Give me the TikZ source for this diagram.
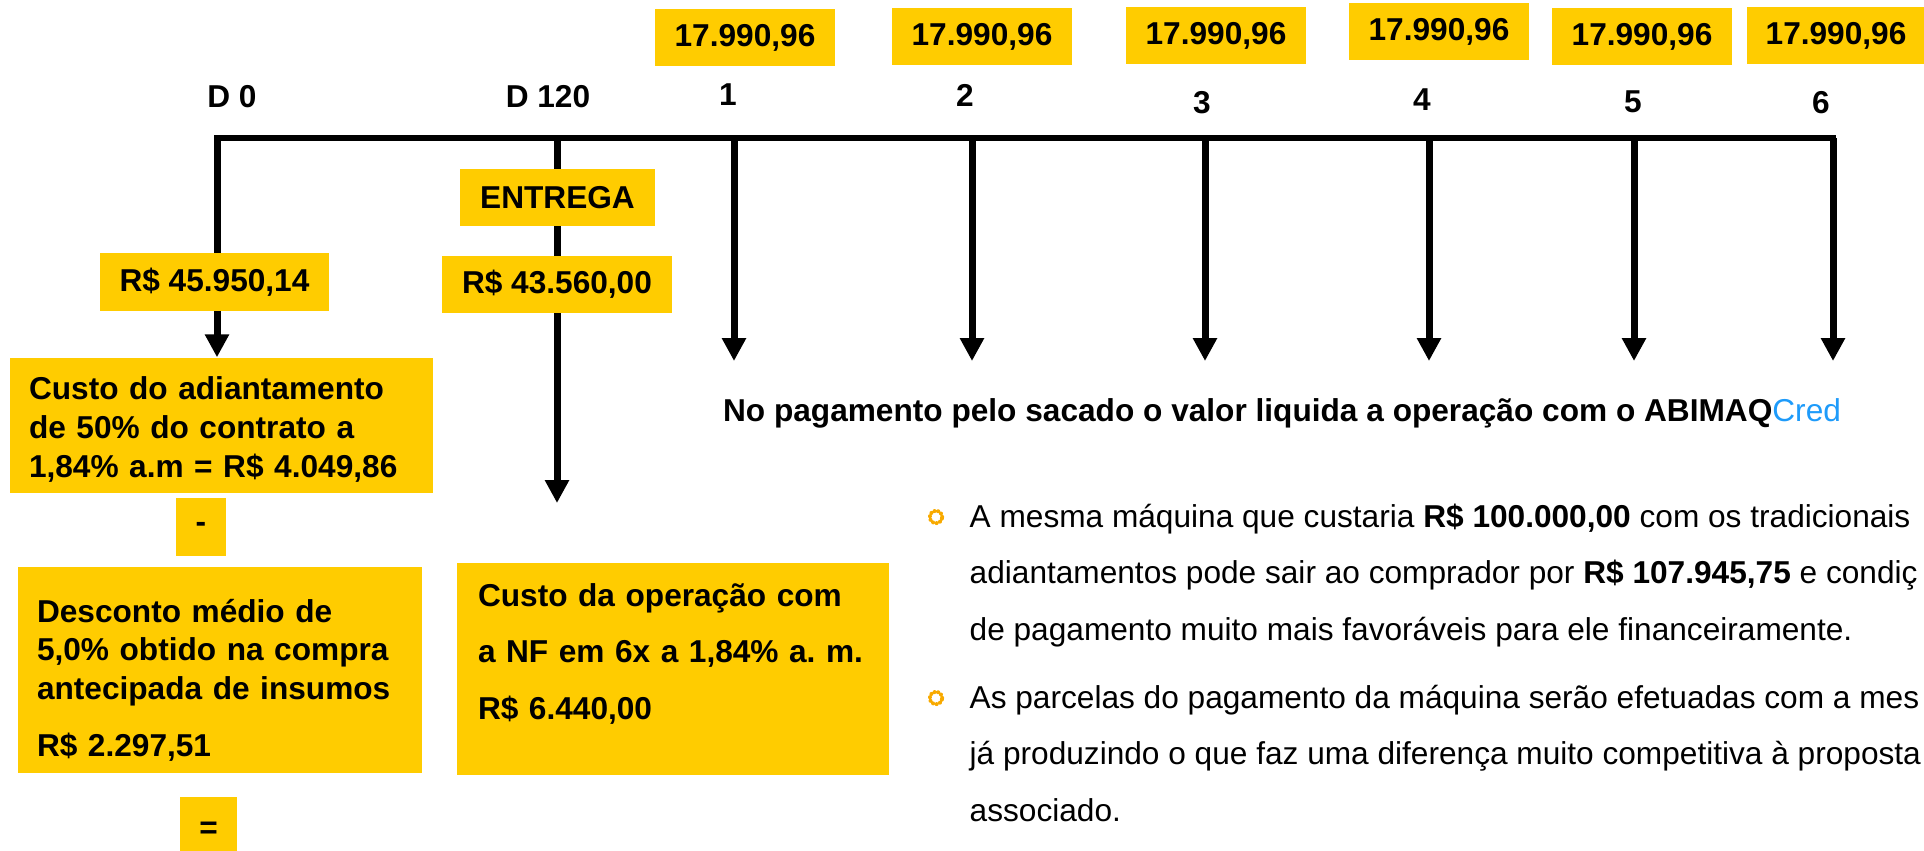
\documentclass[tikz,border=0pt]{standalone}
\usepackage{fontspec}
\setmainfont{Liberation Sans}
\usepackage{xcolor}
\usetikzlibrary{arrows.meta,backgrounds}
\definecolor{boxyellow}{RGB}{255,204,0}
\definecolor{credblue}{RGB}{30,155,250}
\definecolor{sunorange}{RGB}{248,170,0}

\begin{document}
\begin{tikzpicture}[x=0.1mm, y=-0.1mm]
	\tikzstyle{yb}=[fill=boxyellow, inner sep=0pt, font=\fontsize{9}{11}\selectfont\bfseries]
	\tikzstyle{lbl}=[inner sep=0pt, anchor=base, font=\fontsize{9}{11}\selectfont\bfseries]
	\tikzstyle{txt}=[inner sep=0pt, anchor=north west, align=left, font=\fontsize{9}{16.1}\selectfont]
	\tikzstyle{tl}=[line width=0.65mm, line cap=rect]
	\tikzstyle{arr}=[line width=0.7mm, -{Triangle[length=2.3mm, width=2.3mm]}]
	\tikzstyle{sun}=[draw=sunorange, line width=0.4mm, line cap=round, dash pattern=on 0.01mm off 0.36mm]
	\useasboundingbox (0,0) rectangle (1924,850);

		\node[lbl] (d0) at (232,107) {D 0};
		\node[lbl] (d120) at (548,107) {D 120};
		
		\node[lbl] (n1) at (728,105) {1};
		\node[lbl] (n2) at (965,106) {2};
		\node[lbl] (n3) at (1202,113) {3};
		\node[lbl] (n4) at (1422,110) {4};
		\node[lbl] (n5) at (1633,112) {5};
		\node[lbl] (n6) at (1821,113) {6};
		
		\node[yb, minimum width=18mm, minimum height=5.7mm] (v1) at (745,37.5) {17.990,96};
		\node[yb, minimum width=18mm, minimum height=5.7mm] (v2) at (982,36.5) {17.990,96};
		\node[yb, minimum width=18mm, minimum height=5.7mm] (v3) at (1216,35.5) {17.990,96};
		\node[yb, minimum width=18mm, minimum height=5.7mm] (v4) at (1439,31.5) {17.990,96};
		\node[yb, minimum width=18mm, minimum height=5.7mm] (v5) at (1642,36.5) {17.990,96};
		\node[yb, minimum width=17.8mm, minimum height=5.7mm] (v6) at (1836,35.5) {17.990,96};
		
		\node[yb, minimum width=19.5mm, minimum height=5.7mm] (entrega) at (557.5,197.5) {ENTREGA};
		\node[yb, minimum width=22.9mm, minimum height=5.8mm] (v0) at (214.5,282) {R\$ 45.950,14};
		\node[yb, minimum width=23mm, minimum height=5.7mm] (v120) at (557,284.5) {R\$ 43.560,00};
		
		\node[yb, minimum width=42.3mm, minimum height=13.5mm, text width=38.5mm, align=left] (adiant) at (221.5,425.5)
			{\rule{0pt}{3.1mm}Custo do adiantamento\\de 50\% do contrato a\\1,84\% a.m = R\$ 4.049,86};
		\node[yb, minimum width=5mm, minimum height=5.8mm] (menos) at (201,527) {-};
		\node[yb, minimum width=40.4mm, minimum height=20.6mm, text width=36.6mm, align=left] (desc) at (220,670)
			{\rule{0pt}{4.4mm}Desconto médio de\\5,0\% obtido na compra\\antecipada de insumos\\[5.3pt]R\$ 2.297,51};
		\node[yb, minimum width=5.7mm, minimum height=6.6mm] (igual) at (208.5,830) {=};
		
		\node[yb, minimum width=43.2mm, minimum height=21.2mm, text width=39mm, align=left,
			font=\fontsize{9}{16.1}\selectfont\bfseries] (custoop) at (673,669)
			{Custo da operação com\\a~NF~em~6x~a~1,84\%~a.~m.\\R\$ 6.440,00\rule[-3.5mm]{0pt}{0pt}};
		
		\node[lbl] (liq) at (1282,421) {No pagamento pelo sacado o valor liquida a operação com o ABIMAQ{\mdseries\color{credblue}Cred}};
		
		%========================================================================
		% Bullets
		\coordinate (s1) at (936,517);
		\coordinate (s2) at (936,698);
		\draw[sun] (s1) circle (0.62mm);
		\draw[sun] (s2) circle (0.62mm);
		\node[txt] (b1) at (969,503) {A mesma máquina que custaria \textbf{R\$ 100.000,00} com os tradicionais\\adiantamentos pode sair ao comprador por \textbf{R\$ 107.945,75} e condiç\\de pagamento muito mais favoráveis para ele financeiramente.};
		\node[txt] (b2) at (969,684) {As parcelas do pagamento da máquina serão efetuadas com a mes\\já produzindo o que faz uma diferença muito competitiva à proposta\\associado.};
		
		%========================================================================
		% Arrows
		\coordinate (t0) at (217,138);
		\coordinate (t120) at (557,138);
		\coordinate (t1) at (734,138);
		\coordinate (t2) at (972,138);
		\coordinate (t3) at (1205,138);
		\coordinate (t4) at (1429,138);
		\coordinate (t5) at (1634,138);
		\coordinate (t6) at (1833,138);
		\coordinate (e120) at (557,503);
		\coordinate (p1) at (734,361);
		\coordinate (p2) at (972,361);
		\coordinate (p3) at (1205,361);
		\coordinate (p4) at (1429,361);
		\coordinate (p5) at (1634,361);
		\coordinate (p6) at (1833,361);
		
		\begin{scope}[on background layer]
		\draw[tl] (t0) -- (t6);
		\draw[arr] (t0) -- (t0 |- adiant.north);
		\draw[arr] (t120) -- (e120);
		
		\draw[arr] (t1) -- (p1);
		\draw[arr] (t2) -- (p2);
		\draw[arr] (t3) -- (p3);
		\draw[arr] (t4) -- (p4);
		\draw[arr] (t5) -- (p5);
		\draw[arr] (t6) -- (p6);
		\end{scope}
	\end{tikzpicture}
\end{document}
